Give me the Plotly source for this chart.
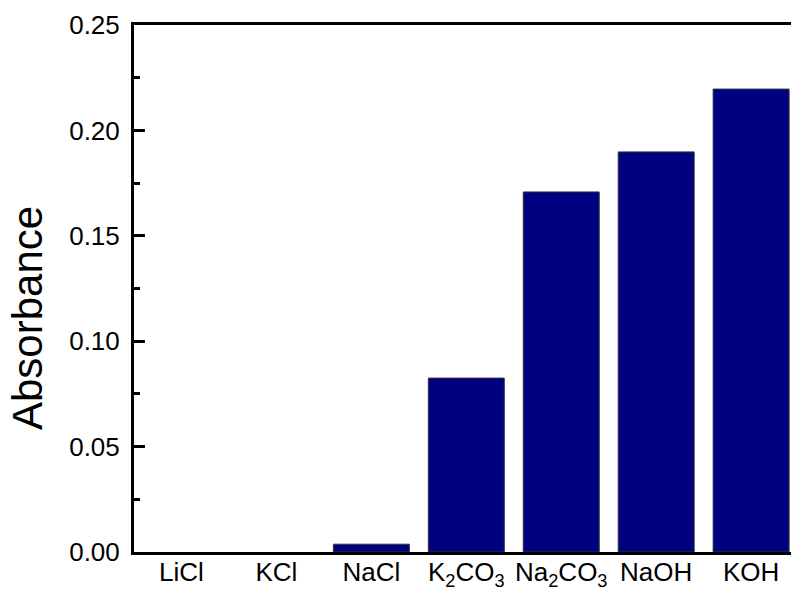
import plotly.graph_objects as go

categories = ["LiCl", "KCl", "NaCl", "K<sub>2</sub>CO<sub>3</sub>",
              "Na<sub>2</sub>CO<sub>3</sub>", "NaOH", "KOH"]
absorbance = [0.0, 0.0, 0.0037, 0.0825, 0.1708, 0.1898, 0.2196]
y_ticks = [0.00, 0.05, 0.10, 0.15, 0.20, 0.25]

outline_widths = [0 if v == 0 else 1 for v in absorbance]

fig = go.Figure()
fig.add_trace(go.Bar(
    x=list(range(len(categories))),
    y=absorbance,
    width=0.8,
    marker=dict(color="#000080", line=dict(color="#333333", width=outline_widths)),
))

fig.update_layout(
    width=791, height=590,
    margin=dict(l=134, r=0, t=25, b=38),
    paper_bgcolor="white", plot_bgcolor="white",
    font=dict(family="Arial, Liberation Sans, sans-serif", color="black"),
    showlegend=False,
    bargap=0.2,
)

fig.update_xaxes(
    range=[-0.5, 6.42],
    tickmode="array",
    tickvals=list(range(len(categories))),
    ticktext=categories,
    tickfont=dict(size=26),
    ticklabelstandoff=-5,
    showline=True, linecolor="black", linewidth=3, mirror=True,
    ticks="", showgrid=False, zeroline=False,
    automargin=False,
)

fig.update_yaxes(
    range=[0, 0.25],
    tickmode="array",
    tickvals=y_ticks,
    ticktext=[f"{v:.2f}" for v in y_ticks],
    tickfont=dict(size=26),
    ticklabelstandoff=6,
    ticks="inside", ticklen=11, tickwidth=3, tickcolor="black",
    minor=dict(ticks="inside", ticklen=6, tickwidth=3, tickcolor="black", dtick=0.025, tick0=0),
    showline=True, linecolor="black", linewidth=3, mirror=False,
    showgrid=False, zeroline=False,
    automargin=False,
)

fig.add_annotation(
    text="Absorbance", textangle=-90,
    xref="paper", yref="paper", x=0, y=0.444,
    xanchor="center", yanchor="middle", xshift=-107,
    showarrow=False, font=dict(size=42),
)

fig.write_html("out.html")
